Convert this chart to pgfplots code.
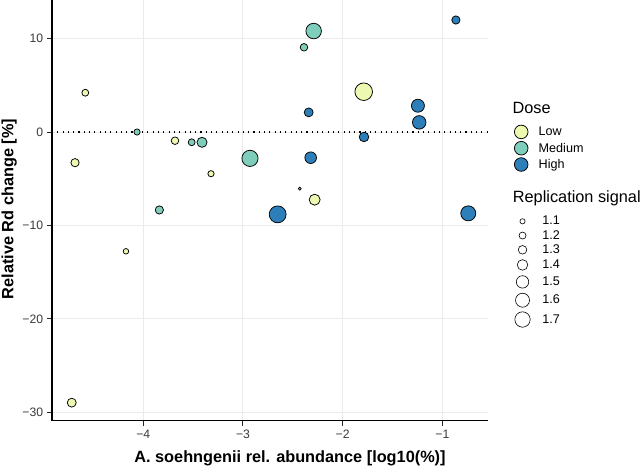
\documentclass[border=0pt]{standalone}
\usepackage{fontspec}
\setmainfont{Liberation Sans}
\usepackage{pgfplots}
\usepackage{pgfplotstable}
\pgfplotsset{compat=1.18}
\definecolor{lowc}{HTML}{EDF8B1}
\definecolor{medc}{HTML}{7FCDBB}
\definecolor{highc}{HTML}{2C7FB8}
\definecolor{gridc}{HTML}{EBEBEB}
\definecolor{tickc}{HTML}{3A3A3A}

\pgfplotstableread{
x y s
-4.582 4.20 1.26
-4.685 -3.28 1.34
-3.682 -0.93 1.30
-3.321 -4.46 1.22
-1.789 4.31 1.89
-2.281 -7.24 1.50
-4.174 -12.76 1.18
-4.718 -28.95 1.38
}\lowdata
\pgfplotstableread{
x y s
-4.063 0.00 1.22
-3.515 -1.10 1.26
-3.411 -1.10 1.45
-3.839 -8.34 1.34
-2.930 -2.82 1.81
-2.291 10.80 1.77
-2.388 9.06 1.30
-2.431 -6.06 1.03
}\meddata
\pgfplotstableread{
x y s
-0.864 11.98 1.34
-1.245 2.81 1.62
-1.232 1.03 1.65
-2.341 2.10 1.38
-1.786 -0.53 1.42
-2.321 -2.75 1.54
-2.652 -8.81 1.85
-0.740 -8.70 1.74
}\highdata

\pgfplotsset{
  bubble/.style={only marks, mark=*, scatter, forget plot,
    scatter/use mapped color={draw=black, fill=#1},
    mark options={line width=0.75bp},
    visualization depends on={2.3+(\thisrow{s}-1.1)*8.5-0.2 \as \msz},
    scatter/@pre marker code/.append style={/tikz/mark size=\msz}},
  geom/.style={scale only axis, width=435.7bp, height=420.7bp,
    xmin=-4.916, xmax=-0.545, ymin=-30.88, ymax=14.12},
}
\newcommand{\doseimg}[1]{\addlegendimage{legend image code/.code={%
  \path[draw=none, fill=none] (0,-8.15bp) rectangle (24.5bp,8.15bp);
  \draw[black, fill=#1, line width=0.75bp] (9bp,0) circle[radius=6.8bp];}}}
\newcommand{\sizeimg}[2]{\addlegendimage{legend image code/.code={%
  \path[draw=none, fill=none] (0,-#2) rectangle (26.8bp,#2);
  \draw[black, fill=white, line width=0.6bp] (9bp,0) circle[radius=#1];}}}

\begin{document}
\begin{tikzpicture}
\path[use as bounding box] (-52bp,-45.3bp) rectangle (589bp,420.7bp);
\begin{axis}[geom,
  clip=false,
  axis lines*=left,
  axis line style={black, line width=1.1bp},
  grid=major,
  major grid style={gridc, line width=1bp},
  tick align=outside,
  major tick length=5.3bp,
  tick style={black!85, line width=1bp},
  xtick={-4,-3,-2,-1},
  xticklabels={−4,−3,−2,−1},
  ytick={-30,-20,-10,0,10},
  yticklabels={−30,−20,−10,0,10},
  ticklabel style={font=\fontsize{12.2bp}{14bp}\selectfont, text=tickc, inner sep=0pt},
  xticklabel style={yshift=-3.5bp},
  yticklabel style={xshift=-3.4bp},
  xlabel={A. soehngenii rel. abundance [log10(\%)]},
  xlabel style={at={(axis description cs:0.5462,-0.0994)}, anchor=base,
    font=\fontsize{16.3bp}{19bp}\selectfont\bfseries, inner sep=0pt},
  ylabel={Relative Rd change [\%]},
  ylabel style={at={(axis description cs:-0.0888,0.503)}, anchor=base,
    font=\fontsize{16.3bp}{19bp}\selectfont\bfseries, inner sep=0pt},
  legend style={at={(axis description cs:1.0558,0.7063)}, anchor=north west,
    draw=none, fill=none, inner sep=0pt, row sep=0pt,
    font=\fontsize{12.6bp}{14bp}\selectfont,
    cells={anchor=west, inner sep=0pt}},
]
\addplot[forget plot, black, line width=1.1bp, dash pattern=on 1.1bp off 4.2bp]
  coordinates {(-4.916,0) (-0.545,0)};
\addplot[bubble=lowc] table[x=x, y=y] {\lowdata};
\addplot[bubble=medc] table[x=x, y=y] {\meddata};
\addplot[bubble=highc] table[x=x, y=y] {\highdata};
\doseimg{lowc}\addlegendentry{Low}
\doseimg{medc}\addlegendentry{Medium}
\doseimg{highc}\addlegendentry{High}
\node[anchor=base west, inner sep=0pt, font=\fontsize{16.3bp}{19bp}\selectfont]
  at (axis description cs:1.0565,0.7297) {Dose};
\node[anchor=base west, inner sep=0pt, font=\fontsize{16.3bp}{19bp}\selectfont]
  at (axis description cs:1.0574,0.5198) {Replication signal};
\end{axis}
\begin{axis}[geom, hide axis,
  legend style={at={(axis description cs:1.0588,0.4912)}, anchor=north west,
    draw=none, fill=none, inner sep=0pt, row sep=0pt,
    font=\fontsize{12.6bp}{14bp}\selectfont,
    cells={anchor=west, inner sep=0pt}},
]
\sizeimg{2.6bp}{5.25bp}\addlegendentry{1.1}
\sizeimg{3.5bp}{6.15bp}\addlegendentry{1.2}
\sizeimg{4.3bp}{6.45bp}\addlegendentry{1.3}
\sizeimg{5.3bp}{7.95bp}\addlegendentry{1.4}
\sizeimg{6.2bp}{9.05bp}\addlegendentry{1.5}
\sizeimg{7.0bp}{9.25bp}\addlegendentry{1.6}
\sizeimg{7.7bp}{10.05bp}\addlegendentry{1.7}
\end{axis}
\end{tikzpicture}
\end{document}
